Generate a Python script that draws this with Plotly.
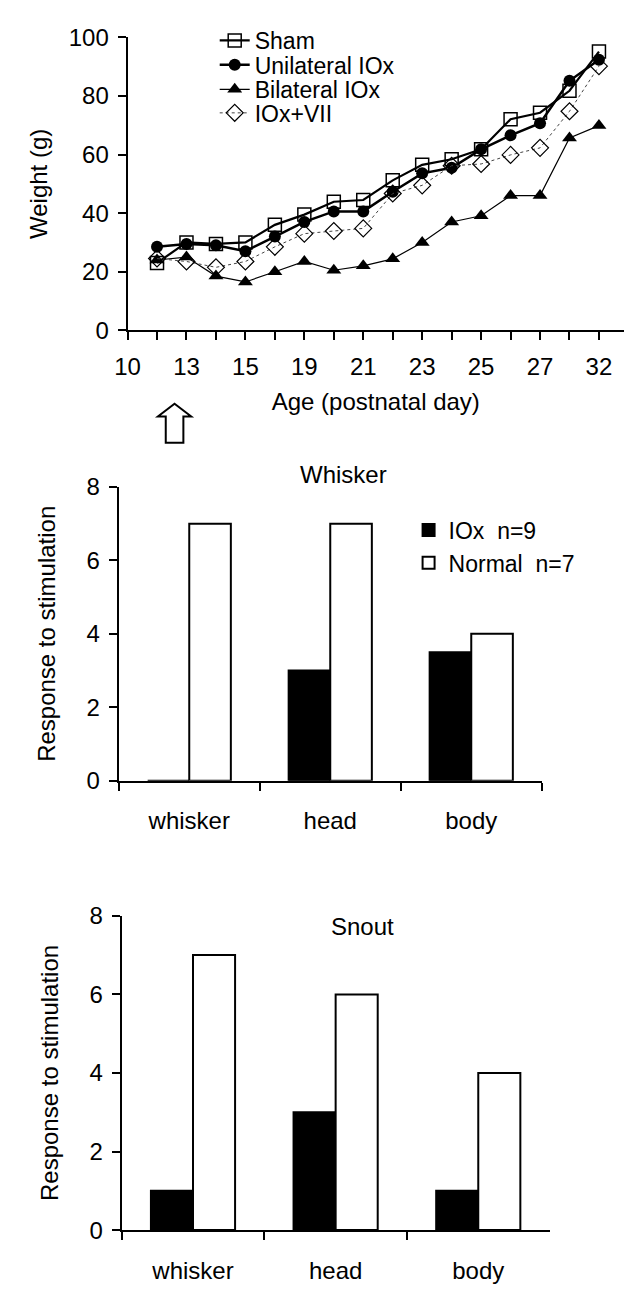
import plotly.graph_objects as go

# ---------------- data ----------------
day_pos = list(range(1, 17))
tick_pos = list(range(0, 17))
tick_text = ["10", "", "13", "", "15", "", "19", "", "21", "", "23", "", "25", "", "27", "", "32"]

sham = [23, 30, 29.5, 30, 36, 39.5, 43.9, 44.5, 51.2, 56.5, 58.4, 61.8, 72.1, 74.3, 81.8, 95.2]
unilateral = [28.5, 29.5, 29, 27, 32, 37, 40.6, 40.6, 47.3, 53.6, 55.5, 61.8, 66.6, 70.7, 85.2, 92.4]
bilateral = [24, 25, 18.5, 16.5, 20, 23.5, 20.5, 22, 24.4, 30, 37, 39.1, 46, 46, 65.7, 69.9]
iox_vii = [24.5, 23.5, 21.5, 23.5, 28.5, 33, 33.9, 34.8, 46.7, 49.5, 56.2, 56.8, 59.9, 62.3, 74.8, 90.2]

regions = ["whisker", "head", "body"]
whisker_iox = [0, 3, 3.5]
whisker_normal = [7, 7, 4]
snout_iox = [1, 3, 1]
snout_normal = [7, 6, 4]

# ---------------- layout helpers ----------------
W, H = 624, 1295
def fx(p):
    return p / W
def fy(p):
    return 1 - p / H

FONT = "Liberation Sans, Arial, Helvetica, sans-serif"
FS = 24

fig = go.Figure()

# ---- top line chart (each series in its own legend box so rows can be packed tightly) ----
fig.add_trace(go.Scatter(x=day_pos, y=sham, name="Sham", mode="lines+markers",
                         line=dict(color="black", width=2.2),
                         marker=dict(symbol="square-open", size=13, color="black", line=dict(width=1.5)),
                         xaxis="x", yaxis="y", legend="legend"))
fig.add_trace(go.Scatter(x=day_pos, y=unilateral, name="Unilateral IOx", mode="lines+markers",
                         line=dict(color="black", width=2.5),
                         marker=dict(symbol="circle", size=12, color="black"),
                         xaxis="x", yaxis="y", legend="legend3"))
fig.add_trace(go.Scatter(x=day_pos, y=bilateral, name="Bilateral IOx", mode="lines+markers",
                         line=dict(color="black", width=1.2),
                         marker=dict(symbol="triangle-up", size=13, color="black"),
                         xaxis="x", yaxis="y", legend="legend4"))
fig.add_trace(go.Scatter(x=day_pos, y=iox_vii, name="IOx+VII", mode="lines+markers",
                         line=dict(color="#444444", width=1, dash="dot"),
                         marker=dict(symbol="diamond-open", size=13, color="black", line=dict(width=1.2)),
                         xaxis="x", yaxis="y", legend="legend5"))

# ---- Whisker bars ----
bar_line = dict(color="black", width=2)
fig.add_trace(go.Bar(x=regions, y=whisker_iox, name="IOx  n=9", marker=dict(color="black", line=bar_line),
                     xaxis="x2", yaxis="y2", legend="legend2"))
fig.add_trace(go.Bar(x=regions, y=whisker_normal, name="Normal  n=7", marker=dict(color="white", line=bar_line),
                     xaxis="x2", yaxis="y2", legend="legend2"))
# ---- Snout bars ----
fig.add_trace(go.Bar(x=regions, y=snout_iox, name="IOx  n=9", marker=dict(color="black", line=bar_line),
                     xaxis="x3", yaxis="y3", showlegend=False))
fig.add_trace(go.Bar(x=regions, y=snout_normal, name="Normal  n=7", marker=dict(color="white", line=bar_line),
                     xaxis="x3", yaxis="y3", showlegend=False))

axis_common = dict(showline=True, linecolor="black", linewidth=2, ticks="outside", ticklen=8,
                   tickwidth=2, tickcolor="black", showgrid=False, zeroline=False,
                   tickfont=dict(family=FONT, size=FS, color="black"))

# hollow up-arrow under the x axis (decoration), built in pixel space
ax_c, head_top, head_base, shaft_bot = 165, 398, 411, 438
head_hw, shaft_hw = 17, 9
arrow_pts = [(ax_c, head_top), (ax_c + head_hw, head_base), (ax_c + shaft_hw, head_base),
             (ax_c + shaft_hw, shaft_bot), (ax_c - shaft_hw, shaft_bot), (ax_c - shaft_hw, head_base),
             (ax_c - head_hw, head_base)]
arrow_path = "M " + " L ".join(f"{fx(px)},{fy(py)}" for px, py in arrow_pts) + " Z"

def top_legend(ypix):
    return dict(x=fx(206), y=fy(ypix), xanchor="left", yanchor="middle",
                bgcolor="rgba(0,0,0,0)", font=dict(family=FONT, size=23), itemwidth=30)

fig.update_layout(
    width=W, height=H, autosize=False,
    margin=dict(l=0, r=0, t=0, b=0),
    paper_bgcolor="white", plot_bgcolor="white",
    font=dict(family=FONT, size=FS, color="black"),
    barmode="group", bargap=0.41, bargroupgap=0,
    xaxis=dict(domain=[fx(117), 1.0], range=[0, 16.85], tickmode="array",
               tickvals=tick_pos, ticktext=tick_text, anchor="y",
               ticklabelstandoff=6,
               title=dict(text="Age (postnatal day)", font=dict(family=FONT, size=FS), standoff=14),
               **axis_common),
    yaxis=dict(domain=[fy(323), fy(24)], range=[0, 100], dtick=20, anchor="x",
               ticklabelstandoff=4,
               title=dict(text="Weight (g)", font=dict(family=FONT, size=FS), standoff=14),
               **axis_common),
    xaxis2=dict(domain=[fx(108), fx(540)], anchor="y2", type="category", tickson="boundaries",
                range=[-0.5, 2.5], ticklabelstandoff=18, **axis_common),
    yaxis2=dict(domain=[fy(783), fy(483)], range=[0, 8], dtick=2, anchor="x2",
                ticklabelstandoff=4,
                title=dict(text="Response to stimulation", font=dict(family=FONT, size=FS), standoff=24),
                **axis_common),
    xaxis3=dict(domain=[fx(111), fx(548)], anchor="y3", type="category", tickson="boundaries",
                range=[-0.5, 2.5], ticklabelstandoff=18, **axis_common),
    yaxis3=dict(domain=[fy(1242), fy(921)], range=[0, 8], dtick=2, anchor="x3",
                ticklabelstandoff=4,
                title=dict(text="Response to stimulation", font=dict(family=FONT, size=FS), standoff=24),
                **axis_common),
    legend=top_legend(27),
    legend3=top_legend(52),
    legend4=top_legend(77),
    legend5=top_legend(101),
    legend2=dict(x=fx(404), y=fy(505), xanchor="left", yanchor="top",
                 bgcolor="rgba(0,0,0,0)", font=dict(family=FONT, size=23),
                 itemwidth=30),
    annotations=[
        dict(text="Whisker", x=fx(338), y=fy(470), xref="paper", yref="paper",
             showarrow=False, font=dict(family=FONT, size=FS)),
        dict(text="Snout", x=fx(357), y=fy(948), xref="paper", yref="paper",
             showarrow=False, font=dict(family=FONT, size=FS)),
    ],
    shapes=[dict(type="path", path=arrow_path, xref="paper", yref="paper",
                 line=dict(color="black", width=2), fillcolor="white")],
)

fig.write_html("out.html", config={"displayModeBar": False},
               post_script="document.body.style.margin='0';document.body.style.overflow='hidden';")
